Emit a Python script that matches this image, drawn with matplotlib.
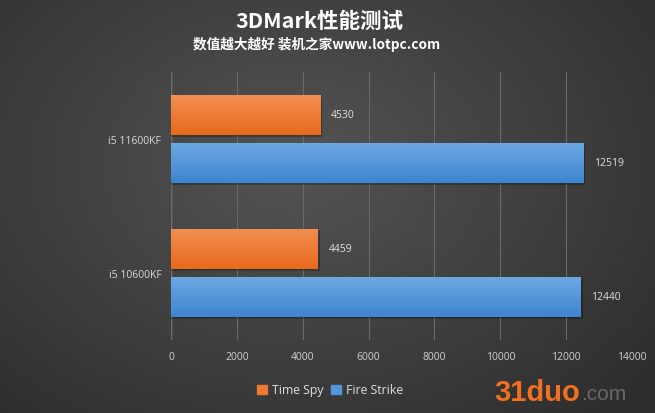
import numpy as np
import matplotlib
matplotlib.use("Agg")
import matplotlib.pyplot as plt
from matplotlib.colors import LinearSegmentedColormap
from matplotlib.patches import Patch

plt.rcParams['font.family'] = ['Open Sans', 'Noto Sans CJK SC', 'DejaVu Sans']

categories = ["i5 10600KF", "i5 11600KF"]
series_names = ["Time Spy", "Fire Strike"]
time_spy = [4459, 4530]
fire_strike = [12440, 12519]
xticks = [0, 2000, 4000, 6000, 8000, 10000, 12000, 14000]
title = "3DMark性能测试"
subtitle = "数值越大越好 装机之家www.lotpc.com"

W, H = 655, 414
fig = plt.figure(figsize=(W/100, H/100), dpi=100)

# background radial gradient
bg_ax = fig.add_axes([0, 0, 1, 1], zorder=-10)
yy, xx = np.mgrid[0:H, 0:W]
r = np.sqrt(((xx - W*0.45)/(W*0.65))**2 + ((yy - H*0.40)/(H*0.75))**2)
val = np.clip(0.33 - 0.14*r, 0.18, 0.34)
bg_ax.imshow(np.dstack([val, val, val]), extent=[0, 1, 0, 1], aspect='auto')
bg_ax.axis('off')

ax = fig.add_axes([171/W, 1-341/H, (632-171)/W, (341-73)/H])
ax.set_facecolor('none')

y = np.arange(len(categories))
off = 24/134
h = 40/134

grads = {
    "Time Spy": LinearSegmentedColormap.from_list("o", ["#e8691c", "#f28e52"]),
    "Fire Strike": LinearSegmentedColormap.from_list("b", ["#3e84cf", "#6ca8e2"]),
}
solid = {"Time Spy": "#ee7a32", "Fire Strike": "#5296da"}

grad = np.linspace(0, 1, 64).reshape(-1, 1)
for name, vals, o in [("Time Spy", time_spy, off), ("Fire Strike", fire_strike, -off)]:
    bars = ax.barh(y + o, vals, height=h, color=solid[name], zorder=3)
    for b, v in zip(bars, vals):
        bb = b.get_bbox()
        ax.barh(b.get_y() + b.get_height()/2 - 0.012, v + 60, height=h, left=0,
                color='black', alpha=0.25, zorder=2)
        im = ax.imshow(grad, extent=[bb.x0, bb.x1, bb.y0, bb.y1], cmap=grads[name],
                       aspect='auto', origin='lower', zorder=4)
        im.set_clip_path(b)
        ax.text(v + 330, b.get_y() + b.get_height()/2, f"{v}", color='#e0e0e0',
                fontsize=7.5, va='center', ha='left', zorder=5)

ax.set_xlim(0, 14000)
ax.set_ylim(-0.5, 1.5)
ax.set_xticks(xticks)
ax.set_xticklabels([str(t) for t in xticks], color='#d0d0d0', fontsize=7.5)
ax.set_yticks(y)
ax.set_yticklabels(categories, color='#d8d8d8', fontsize=7.5)
ax.tick_params(axis='both', length=0, pad=8)
ax.tick_params(axis='y', pad=7)
for s in ax.spines.values():
    s.set_visible(False)
ax.grid(axis='x', color='#6a6a6a', linewidth=0.8, zorder=0)
ax.axvline(0, color='#b8b8b8', linewidth=0.9, zorder=1)

fig.text(319/W, 1-21/H, title, color='white', fontsize=15.5, fontweight='bold',
         ha='center', va='center', family=['Noto Sans CJK SC', 'DejaVu Sans'])
fig.text(317/W, 1-44/H, subtitle, color='white', fontsize=9.8, fontweight='bold',
         ha='center', va='center', family=['Noto Sans CJK SC', 'DejaVu Sans'])

handles = [Patch(color=solid[n]) for n in series_names]
leg = fig.legend(handles, series_names, loc='center', bbox_to_anchor=(330/W, 1-391/H),
                 ncol=2, frameon=False, fontsize=8.8, handlelength=0.8, handleheight=0.8,
                 handletextpad=0.4, columnspacing=0.6)
for t in leg.get_texts():
    t.set_color('#e0e0e0')

fig.text(580/W, 1-393/H, "31duo", color='#f07020', fontsize=21, fontweight='bold',
         ha='right', va='center', family=['Liberation Sans', 'DejaVu Sans'])
fig.text(581/W, 1-395/H, ".com", color='#777777', fontsize=15,
         ha='left', va='center', family=['Liberation Sans', 'DejaVu Sans'], alpha=0.8)

fig.savefig("out.png", dpi=100)
